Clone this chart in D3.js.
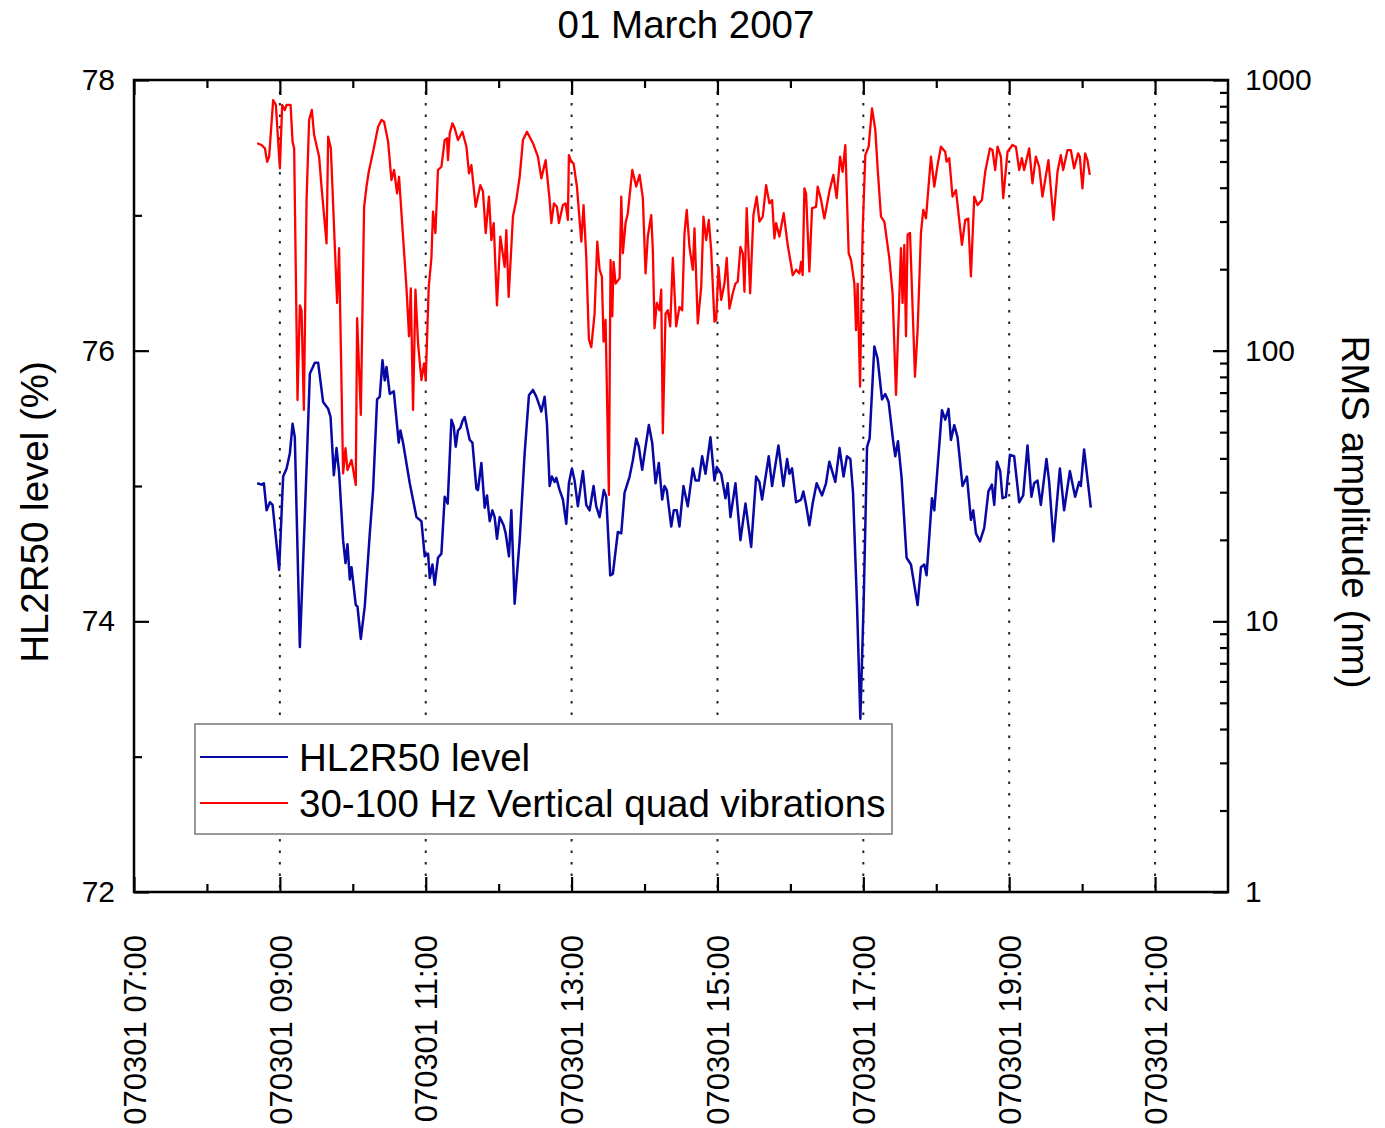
<!DOCTYPE html>
<html>
<head>
<meta charset="utf-8">
<script src="https://cdn.jsdelivr.net/npm/d3@7"></script>
<style>
  html, body { margin: 0; padding: 0; background: #fff; }
  svg { display: block; font-family: "Liberation Sans", Arial, sans-serif; }
</style>
</head>
<body>
<svg id="chart" width="1385" height="1128"></svg>
<script>
// ---- data: 01 March 2007, time of day in decimal hours ----
const levelHours = [
  8.689,8.749,8.781,8.818,8.863,8.900,8.990,9.045,9.092,9.137,
  9.174,9.205,9.274,9.342,9.411,9.479,9.525,9.593,9.662,9.695,
  9.740,9.777,9.812,9.867,9.900,9.927,9.959,9.982,10.041,10.064,
  10.110,10.164,10.233,10.278,10.333,10.370,10.407,10.438,10.462,10.507,
  10.562,10.630,10.653,10.689,10.781,10.873,10.941,10.986,11.032,11.055,
  11.092,11.123,11.168,11.215,11.260,11.301,11.352,11.384,11.411,11.442,
  11.475,11.503,11.534,11.603,11.640,11.695,11.716,11.763,11.808,11.840,
  11.877,11.914,11.945,11.977,12.014,12.068,12.096,12.141,12.174,12.219,
  12.288,12.356,12.415,12.470,12.516,12.562,12.585,12.630,12.662,12.699,
  12.730,12.767,12.790,12.836,12.881,12.927,12.963,13.004,13.041,13.086,
  13.155,13.201,13.247,13.301,13.338,13.384,13.442,13.475,13.530,13.566,
  13.634,13.681,13.726,13.795,13.840,13.886,13.922,13.968,14.014,14.059,
  14.105,14.151,14.196,14.242,14.274,14.305,14.366,14.401,14.442,14.479,
  14.534,14.593,14.662,14.699,14.744,14.790,14.836,14.904,14.959,14.990,
  15.051,15.110,15.141,15.178,15.247,15.315,15.384,15.462,15.530,15.575,
  15.612,15.703,15.749,15.836,15.904,15.955,15.986,16.023,16.078,16.147,
  16.178,16.215,16.260,16.305,16.360,16.434,16.488,16.534,16.616,16.674,
  16.729,16.775,16.822,16.859,16.914,16.959,17.004,17.051,17.086,17.151,
  17.196,17.256,17.301,17.347,17.407,17.438,17.475,17.525,17.593,17.653,
  17.744,17.790,17.836,17.867,17.941,17.973,18.078,18.123,18.168,18.201,
  18.247,18.292,18.360,18.421,18.475,18.507,18.544,18.599,18.658,18.715,
  18.763,18.795,18.832,18.877,18.908,18.955,19.010,19.068,19.137,19.192,
  19.251,19.305,19.342,19.388,19.434,19.511,19.548,19.607,19.695,19.753,
  19.832,19.904,19.959,19.982,20.027,20.119
];
// HL2R50 level (%)
const levelPct = [
  75.02,75.01,75.02,74.82,74.88,74.86,74.38,75.07,75.13,75.24,
  75.46,75.36,73.81,74.77,75.83,75.91,75.91,75.62,75.57,75.51,
  75.08,75.28,75.10,74.60,74.43,74.57,74.31,74.40,74.12,74.11,
  73.87,74.11,74.65,74.97,75.64,75.66,75.93,75.78,75.88,75.68,
  75.70,75.32,75.41,75.32,75.02,74.77,74.74,74.48,74.50,74.32,
  74.42,74.27,74.47,74.50,74.92,74.87,75.49,75.44,75.29,75.41,
  75.43,75.48,75.51,75.34,75.32,74.98,74.97,75.17,74.84,74.93,
  74.74,74.82,74.77,74.61,74.77,74.71,74.65,74.48,74.82,74.13,
  74.60,75.24,75.67,75.71,75.66,75.59,75.55,75.66,75.46,75.00,
  75.07,75.03,75.06,74.97,74.90,74.72,75.02,75.13,75.04,74.85,
  75.11,74.86,74.82,75.00,74.85,74.77,74.97,74.92,74.34,74.35,
  74.66,74.65,74.95,75.07,75.19,75.35,75.29,75.12,75.29,75.45,
  75.32,75.02,75.17,74.90,75.00,74.97,74.70,74.82,74.82,74.70,
  75.00,74.85,75.13,75.04,75.04,75.22,75.09,75.36,75.04,75.14,
  75.09,74.91,75.02,74.77,75.02,74.60,74.87,74.55,75.07,75.03,
  74.90,75.22,75.00,75.30,75.00,75.20,75.09,75.13,74.88,74.90,
  74.96,74.86,74.71,74.87,75.02,74.93,75.02,75.18,75.03,75.28,
  75.07,75.22,75.20,74.95,74.11,73.28,74.13,75.29,75.35,76.03,
  75.94,75.64,75.68,75.62,75.34,75.22,75.33,75.06,74.47,74.42,
  74.12,74.40,74.42,74.34,74.91,74.82,75.56,75.49,75.57,75.34,
  75.45,75.36,75.00,75.07,74.75,74.82,74.65,74.59,74.69,74.96,
  75.01,74.86,75.18,75.11,74.91,74.92,75.23,75.22,74.88,74.93,
  75.30,74.92,75.02,75.04,74.86,75.20,75.03,74.59,75.13,74.82,
  75.11,74.92,75.03,75.00,75.27,74.84
];

const vibHours = [
  8.689,8.749,8.795,8.826,8.853,8.908,8.945,9.000,9.032,9.068,
  9.092,9.147,9.174,9.196,9.242,9.274,9.297,9.329,9.366,9.401,
  9.438,9.470,9.538,9.571,9.640,9.662,9.699,9.785,9.812,9.867,
  9.900,9.927,9.982,10.041,10.059,10.110,10.155,10.188,10.219,10.278,
  10.347,10.393,10.429,10.484,10.530,10.566,10.607,10.634,10.689,10.736,
  10.771,10.795,10.826,10.859,10.895,10.941,10.977,11.000,11.041,11.078,
  11.100,11.133,11.168,11.215,11.260,11.292,11.305,11.329,11.366,11.397,
  11.442,11.503,11.558,11.593,11.626,11.685,11.749,11.785,11.822,11.867,
  11.900,11.932,11.977,12.023,12.082,12.105,12.137,12.196,12.242,12.288,
  12.333,12.388,12.470,12.538,12.585,12.644,12.699,12.722,12.758,12.799,
  12.826,12.881,12.918,12.949,12.963,12.996,13.027,13.073,13.133,13.164,
  13.201,13.237,13.270,13.315,13.352,13.384,13.415,13.438,13.466,13.511,
  13.534,13.558,13.575,13.603,13.658,13.681,13.703,13.740,13.771,13.832,
  13.886,13.932,13.977,14.014,14.045,14.092,14.114,14.137,14.168,14.205,
  14.229,14.251,14.288,14.319,14.352,14.388,14.434,14.479,14.516,14.548,
  14.579,14.616,14.662,14.685,14.730,14.777,14.808,14.845,14.881,14.914,
  14.959,14.982,15.014,15.051,15.096,15.127,15.164,15.210,15.247,15.278,
  15.315,15.347,15.370,15.401,15.448,15.493,15.538,15.575,15.621,15.667,
  15.712,15.749,15.781,15.804,15.849,15.908,15.963,16.010,16.032,16.078,
  16.123,16.147,16.168,16.192,16.215,16.260,16.297,16.352,16.374,16.421,
  16.466,16.534,16.589,16.634,16.681,16.716,16.753,16.799,16.832,16.877,
  16.900,16.922,16.955,16.990,17.027,17.073,17.119,17.164,17.196,17.242,
  17.288,17.356,17.401,17.448,17.516,17.538,17.562,17.585,17.607,17.640,
  17.708,17.744,17.790,17.822,17.859,17.927,17.973,18.018,18.064,18.123,
  18.141,18.178,18.223,18.270,18.352,18.397,18.438,18.475,18.521,18.566,
  18.626,18.671,18.736,18.771,18.808,18.840,18.886,18.918,18.977,19.045,
  19.092,19.137,19.174,19.205,19.274,19.319,19.366,19.411,19.456,19.538,
  19.607,19.662,19.708,19.740,19.799,19.845,19.890,19.945,19.968,20.004,
  20.041,20.073,20.105
];
// 30-100 Hz vertical quad vibrations, RMS amplitude (nm)
const vibNm = [
  584,575,559,499,521,843,809,472,809,775,
  809,809,592,559,65.7,147,141,60.4,360,712,
  775,626,521,404,249,617,559,150,239,35.2,
  43.6,36.2,39.5,31.9,132,57.9,340,404,458,543,
  672,712,701,592,427,465,381,439,264,170,
  113,170,60.4,168,106,77.9,89.8,77.9,172,220,
  326,272,465,478,600,609,506,635,692,663,
  600,644,567,452,485,340,409,387,272,371,
  256,296,147,264,204,279,158,313,360,439,
  600,644,584,521,433,506,360,296,350,340,
  296,345,350,304,528,499,492,404,253,345,
  222,110,103,137,253,199,188,108,130,29.3,
  216,134,213,177,185,371,229,296,322,465,
  404,446,366,193,264,317,235,121,150,141,
  168,49.5,137,141,123,220,123,145,141,272,
  331,242,199,283,126,172,313,256,304,235,
  128,130,204,154,177,220,143,163,177,180,
  242,229,165,336,163,317,371,300,313,409,
  350,360,260,296,264,322,246,207,190,199,
  193,213,190,398,381,196,336,340,404,360,
  308,387,446,366,521,458,575,229,216,177,
  119,177,73.6,272,528,567,786,654,472,313,
  300,220,163,68.6,239,150,246,113,268,272,
  80.1,119,272,331,308,521,404,485,567,543,
  499,514,371,392,246,304,308,188,371,345,
  360,458,559,551,465,567,521,366,543,575,
  567,465,514,465,559,415,521,478,371,506,
  304,458,528,465,551,551,472,536,521,398,
  536,506,446
];

const titleText = "01 March 2007";
const leftTitle = "HL2R50 level (%)";
const rightTitle = "RMS amplitude (nm)";
const seriesNames = ["HL2R50 level", "30-100 Hz Vertical quad vibrations"];
const hourRange = [7, 22];
const majorHours = [7, 9, 11, 13, 15, 17, 19, 21];
const minorHours = [8, 10, 12, 14, 16, 18, 20];
const levelTicks = [72, 74, 76, 78];
const levelMinorTicks = [73, 75, 77];
const levelDomain = [72, 78];
const vibTicks = [1, 10, 100, 1000];
const vibDomain = [1, 1000];

// ---- layout ----
const svg = d3.select("#chart");
const plotL = 134, plotR = 1228, plotT = 80, plotB = 892;
const blue = "#0808a4", red = "#ff0000";

const day = Date.UTC(2007, 2, 1);
const toDate = h => new Date(day + h * 3600e3);

const x = d3.scaleUtc().domain(hourRange.map(toDate)).range([plotL, plotR]);
const yL = d3.scaleLinear().domain(levelDomain).range([plotB, plotT]);
const yR = d3.scaleLog().domain(vibDomain).range([plotB, plotT]);

const fmt = d3.utcFormat("%y%m%d %H:%M");

// dotted vertical grid at the labelled hours
svg.append("g")
  .selectAll("line")
  .data(majorHours.filter(h => h > hourRange[0]))
  .join("line")
  .attr("x1", h => x(toDate(h))).attr("x2", h => x(toDate(h)))
  .attr("y1", plotT).attr("y2", plotB)
  .attr("stroke", "#222").attr("stroke-width", 2)
  .attr("stroke-dasharray", "2.5,9");

// data lines
svg.append("clipPath").attr("id", "plot-clip")
  .append("rect").attr("x", plotL).attr("y", plotT)
  .attr("width", plotR - plotL).attr("height", plotB - plotT);

const levelData = levelHours.map((h, i) => [toDate(h), levelPct[i]]);
const vibData = vibHours.map((h, i) => [toDate(h), vibNm[i]]);

const g = svg.append("g").attr("clip-path", "url(#plot-clip)");
g.append("path")
  .datum(vibData)
  .attr("fill", "none").attr("stroke", red).attr("stroke-width", 2.3)
  .attr("stroke-linejoin", "round")
  .attr("d", d3.line().x(d => x(d[0])).y(d => yR(d[1])));
g.append("path")
  .datum(levelData)
  .attr("fill", "none").attr("stroke", blue).attr("stroke-width", 2.5)
  .attr("stroke-linejoin", "round")
  .attr("d", d3.line().x(d => x(d[0])).y(d => yL(d[1])));

// ---- axes (ticks point inward) ----
const tickFont = 30;
function styleAxis(sel) {
  sel.select(".domain").remove();
  sel.selectAll(".tick line").attr("stroke", "#000").attr("stroke-width", 2.2);
  sel.selectAll(".tick text").attr("font-size", tickFont).attr("fill", "#000")
    .attr("font-family", "'Liberation Sans', Arial, sans-serif");
}

// bottom
const bottomAxis = svg.append("g").attr("transform", `translate(0,${plotB})`)
  .call(d3.axisBottom(x).tickValues(majorHours.map(toDate)).tickFormat(fmt)
    .tickSizeInner(-15).tickSizeOuter(0).tickPadding(0));
styleAxis(bottomAxis);
bottomAxis.selectAll(".tick text")
  .attr("font-size", 31)
  .attr("transform", "rotate(-90)")
  .attr("text-anchor", "end")
  .attr("x", -43).attr("y", 0).attr("dy", "0.36em");
svg.append("g").attr("transform", `translate(0,${plotB})`)
  .call(d3.axisBottom(x).tickValues(minorHours.map(toDate)).tickFormat("")
    .tickSizeInner(-8).tickSizeOuter(0))
  .call(styleAxis);

// top (mirrored ticks, no labels)
svg.append("g").attr("transform", `translate(0,${plotT})`)
  .call(d3.axisTop(x).tickValues(majorHours.map(toDate)).tickFormat("")
    .tickSizeInner(-15).tickSizeOuter(0))
  .call(styleAxis);
svg.append("g").attr("transform", `translate(0,${plotT})`)
  .call(d3.axisTop(x).tickValues(minorHours.map(toDate)).tickFormat("")
    .tickSizeInner(-8).tickSizeOuter(0))
  .call(styleAxis);

// left: level (%)
svg.append("g").attr("transform", `translate(${plotL},0)`)
  .call(d3.axisLeft(yL).tickValues(levelTicks).tickFormat(d3.format("d"))
    .tickSizeInner(-15).tickSizeOuter(0).tickPadding(19))
  .call(styleAxis);
svg.append("g").attr("transform", `translate(${plotL},0)`)
  .call(d3.axisLeft(yL).tickValues(levelMinorTicks).tickFormat("")
    .tickSizeInner(-8).tickSizeOuter(0))
  .call(styleAxis);

// right: RMS amplitude (nm), log scale
const vibMinor = [];
vibTicks.slice(0, -1).forEach(d => { for (let k = 2; k <= 9; k++) vibMinor.push(d * k); });
svg.append("g").attr("transform", `translate(${plotR},0)`)
  .call(d3.axisRight(yR).tickValues(vibTicks).tickFormat(d3.format("d"))
    .tickSizeInner(-15).tickSizeOuter(0).tickPadding(17))
  .call(styleAxis);
svg.append("g").attr("transform", `translate(${plotR},0)`)
  .call(d3.axisRight(yR).tickValues(vibMinor).tickFormat("")
    .tickSizeInner(-8).tickSizeOuter(0))
  .call(styleAxis);

// frame
svg.append("rect")
  .attr("x", plotL).attr("y", plotT)
  .attr("width", plotR - plotL).attr("height", plotB - plotT)
  .attr("fill", "none").attr("stroke", "#000").attr("stroke-width", 2.5);

// ---- titles ----
const bigFont = 38.5;
svg.append("text")
  .attr("x", 686).attr("y", 38)
  .attr("text-anchor", "middle").attr("font-size", bigFont)
  .text(titleText);

svg.append("text")
  .attr("transform", "translate(34,512) rotate(-90)")
  .attr("text-anchor", "middle").attr("dy", "0.36em")
  .attr("font-size", bigFont)
  .text(leftTitle);

svg.append("text")
  .attr("transform", "translate(1356,512) rotate(90)")
  .attr("text-anchor", "middle").attr("dy", "0.36em")
  .attr("font-size", bigFont)
  .text(rightTitle);

// ---- legend ----
const legend = svg.append("g");
legend.append("rect")
  .attr("x", 195).attr("y", 724).attr("width", 697).attr("height", 110)
  .attr("fill", "#fff").attr("stroke", "#777").attr("stroke-width", 1.5);
const items = [
  { name: seriesNames[0], color: blue },
  { name: seriesNames[1], color: red }
];
const row = legend.selectAll("g.item").data(items).join("g")
  .attr("class", "item")
  .attr("transform", (d, i) => `translate(0,${757 + i * 46})`);
row.append("line")
  .attr("x1", 200).attr("x2", 288)
  .attr("stroke", d => d.color).attr("stroke-width", 2);
row.append("text")
  .attr("x", 299).attr("dy", "0.36em")
  .attr("font-size", bigFont)
  .text(d => d.name);
</script>
</body>
</html>
